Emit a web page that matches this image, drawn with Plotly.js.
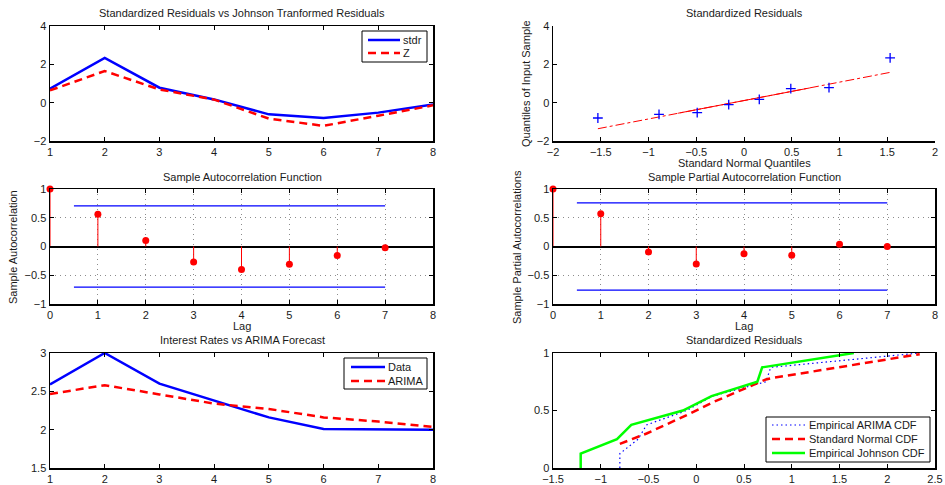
<!DOCTYPE html>
<html>
<head>
<meta charset="utf-8">
<script src="https://cdn.plot.ly/plotly-3.0.1.min.js"></script>
<style>
  html, body { margin: 0; padding: 0; background: #fff; }
  #chart { width: 945px; height: 485px; }
</style>
</head>
<body>
<div id="chart"></div>
<script>
// ---- data ----
const obsIdx = [1, 2, 3, 4, 5, 6, 7, 8];
const stdr = [0.73, 2.34, 0.78, 0.17, -0.61, -0.80, -0.52, -0.10];
const johnsonZ = [0.64, 1.65, 0.69, 0.16, -0.83, -1.21, -0.68, -0.14];

const qqTheoretical = [-1.53, -0.89, -0.49, -0.16, 0.16, 0.49, 0.89, 1.53];
const qqSample = [-0.80, -0.61, -0.52, -0.10, 0.17, 0.73, 0.78, 2.34];
const qqLineX = [-1.53, 1.53];
const qqLineY = [-1.36, 1.58];
const qqSolidX = [-0.69, 0.69];
const qqSolidY = [-0.55, 0.77];

const acfLags = [0, 1, 2, 3, 4, 5, 6, 7];
const acfVals = [1, 0.56, 0.105, -0.27, -0.40, -0.31, -0.155, -0.023];
const acfBound = 0.707;
const pacfVals = [1, 0.57, -0.095, -0.305, -0.125, -0.15, 0.04, 0.0];
const pacfBound = 0.757;
const boundLags = [0.5, 7];

const rateData = [2.59, 3.0, 2.60, 2.375, 2.16, 2.01, 2.005, 2.0];
const arimaFit = [2.465, 2.58, 2.46, 2.34, 2.27, 2.16, 2.105, 2.035];

const cdfArimaX = [-0.80, -0.80, -0.61, -0.52, -0.10, 0.17, 0.73, 0.78, 2.34];
const cdfArimaY = [0, 0.125, 0.25, 0.375, 0.5, 0.625, 0.75, 0.875, 1];
const cdfNormX = [-0.80, -0.61, -0.52, -0.10, 0.17, 0.73, 0.78, 2.34];
const cdfNormY = [0.21, 0.27, 0.30, 0.46, 0.57, 0.77, 0.78, 0.99];
const cdfJohnsonX = [-1.21, -1.21, -0.83, -0.68, -0.14, 0.16, 0.64, 0.69, 1.65];
const cdfJohnsonY = [0, 0.125, 0.25, 0.375, 0.5, 0.625, 0.75, 0.875, 1];

// ---- styles ----
const W = 945, H = 485;
const BLUE = '#0000ff', RED = '#ff0000', GREEN = '#00ff00';
const FONT = { family: 'Liberation Sans, Arial, Helvetica, sans-serif', size: 11, color: '#1a1a1a' };
const DASH = '8px,5px';
const DOT = '1.5px,3px';

const thick = (color, dash) => ({ color: color, width: 2.5, dash: dash || 'solid' });

// stem segments: each lag goes from 0 to its value
function stems(xs, ys) {
  const sx = [], sy = [];
  xs.forEach((x, i) => { sx.push(x, x, null); sy.push(0, ys[i], null); });
  return { x: sx, y: sy };
}
const acfStem = stems(acfLags, acfVals);
const pacfStem = stems(acfLags, pacfVals);

const traces = [
  // residuals
  { x: obsIdx, y: stdr, name: 'stdr', mode: 'lines', line: thick(BLUE), xaxis: 'x', yaxis: 'y' },
  { x: obsIdx, y: johnsonZ, name: 'Z', mode: 'lines', line: thick(RED, DASH), xaxis: 'x', yaxis: 'y' },

  // normal QQ
  { x: qqLineX, y: qqLineY, mode: 'lines', line: { color: RED, width: 1, dash: 'dashdot' }, xaxis: 'x2', yaxis: 'y2' },
  { x: qqSolidX, y: qqSolidY, mode: 'lines', line: { color: RED, width: 1 }, xaxis: 'x2', yaxis: 'y2' },
  { x: qqTheoretical, y: qqSample, mode: 'markers', marker: { symbol: 'cross-thin', size: 7, color: BLUE, line: { color: BLUE, width: 1.3 } }, xaxis: 'x2', yaxis: 'y2' },

  // ACF
  { x: boundLags, y: [acfBound, acfBound], mode: 'lines', line: { color: BLUE, width: 1.3 }, xaxis: 'x3', yaxis: 'y3' },
  { x: boundLags, y: [-acfBound, -acfBound], mode: 'lines', line: { color: BLUE, width: 1.3 }, xaxis: 'x3', yaxis: 'y3' },
  { x: acfStem.x, y: acfStem.y, mode: 'lines', line: { color: RED, width: 1 }, xaxis: 'x3', yaxis: 'y3' },
  { x: acfLags, y: acfVals, mode: 'markers', marker: { color: RED, size: 7 }, xaxis: 'x3', yaxis: 'y3', cliponaxis: false },

  // PACF
  { x: boundLags, y: [pacfBound, pacfBound], mode: 'lines', line: { color: BLUE, width: 1.3 }, xaxis: 'x4', yaxis: 'y4' },
  { x: boundLags, y: [-pacfBound, -pacfBound], mode: 'lines', line: { color: BLUE, width: 1.3 }, xaxis: 'x4', yaxis: 'y4' },
  { x: pacfStem.x, y: pacfStem.y, mode: 'lines', line: { color: RED, width: 1 }, xaxis: 'x4', yaxis: 'y4' },
  { x: acfLags, y: pacfVals, mode: 'markers', marker: { color: RED, size: 7 }, xaxis: 'x4', yaxis: 'y4', cliponaxis: false },

  // rates vs forecast
  { x: obsIdx, y: rateData, name: 'Data', mode: 'lines', line: thick(BLUE), xaxis: 'x5', yaxis: 'y5' },
  { x: obsIdx, y: arimaFit, name: 'ARIMA', mode: 'lines', line: thick(RED, DASH), xaxis: 'x5', yaxis: 'y5' },

  // CDFs
  { x: cdfArimaX, y: cdfArimaY, name: 'Empirical ARIMA CDF', mode: 'lines', line: { color: BLUE, width: 1.2, dash: DOT }, xaxis: 'x6', yaxis: 'y6' },
  { x: cdfNormX, y: cdfNormY, name: 'Standard Normal CDF', mode: 'lines', line: thick(RED, DASH), xaxis: 'x6', yaxis: 'y6' },
  { x: cdfJohnsonX, y: cdfJohnsonY, name: 'Empirical Johnson CDF', mode: 'lines', line: thick(GREEN), xaxis: 'x6', yaxis: 'y6' }
];

// axes boxes in pixels
const colL = [50, 433], colR = [553, 935];
const row1 = [26, 141], row2 = [189, 304], row3 = [353, 468];
const dx = c => [c[0] / W, c[1] / W];
const dy = r => [1 - r[1] / H, 1 - r[0] / H];
const px = v => v / W, py = v => 1 - v / H;

function axis(dom, range, dtick, opts) {
  return Object.assign({
    domain: dom, range: range, dtick: dtick, tick0: range[0],
    showline: true, linecolor: '#000', linewidth: 1.5, mirror: 'ticks',
    ticks: 'inside', ticklen: 4, tickwidth: 1, tickcolor: '#000',
    showgrid: false, zeroline: false, fixedrange: true,
    tickfont: FONT
  }, opts || {});
}
const gridOpts = { showgrid: true, gridcolor: '#8c8c8c', griddash: '1px,4px', gridwidth: 1 };
const zeroOpts = { zeroline: true, zerolinecolor: '#000', zerolinewidth: 2 };

function ann(text, x, y, angle, anchor) {
  return { text: text, x: px(x), y: py(y), xref: 'paper', yref: 'paper',
    xanchor: anchor || 'center', yanchor: 'middle', showarrow: false, textangle: angle || 0, font: FONT };
}

// boxed legends: frame, line samples and labels
const shapes = [];
const legendAnns = [];
function legendBox(box, sample, textX, rows) {
  shapes.push({ type: 'rect', xref: 'paper', yref: 'paper', x0: px(box[0]), x1: px(box[1]), y0: py(box[3]), y1: py(box[2]),
    fillcolor: '#fff', line: { color: '#000', width: 1 }, layer: 'above' });
  rows.forEach(r => {
    shapes.push({ type: 'line', xref: 'paper', yref: 'paper', x0: px(sample[0]), x1: px(sample[1]), y0: py(r.y), y1: py(r.y),
      line: r.line, layer: 'above' });
    legendAnns.push(ann(r.text, textX, r.y, 0, 'left'));
  });
}
legendBox([362, 427, 31, 62], [368, 400], 401, [
  { text: traces[0].name, y: 40, line: thick(BLUE) },
  { text: traces[1].name, y: 53, line: thick(RED, DASH) }
]);
legendBox([344, 427, 358, 389], [351, 385], 386, [
  { text: traces[13].name, y: 367, line: thick(BLUE) },
  { text: traces[14].name, y: 381, line: thick(RED, DASH) }
]);
legendBox([766, 930, 417, 462], [772, 805], 807, [
  { text: traces[15].name, y: 425, line: { color: BLUE, width: 1.2, dash: DOT } },
  { text: traces[16].name, y: 439, line: thick(RED, DASH) },
  { text: traces[17].name, y: 453, line: thick(GREEN) }
]);

const layout = {
  width: W, height: H,
  margin: { l: 0, r: 0, t: 0, b: 0 },
  paper_bgcolor: '#fff', plot_bgcolor: '#fff',
  font: FONT,
  showlegend: false,
  xaxis:  axis(dx(colL), [1, 8], 1, { anchor: 'y' }),
  yaxis:  axis(dy(row1), [-2, 4], 2, { anchor: 'x' }),
  xaxis2: axis(dx(colR), [-2, 2], 0.5, { anchor: 'y2', mirror: false }),
  yaxis2: axis(dy(row1), [-2, 4], 2, { anchor: 'x2', mirror: false }),
  xaxis3: axis(dx(colL), [0, 8], 1, Object.assign({ anchor: 'y3' }, gridOpts)),
  yaxis3: axis(dy(row2), [-1, 1], 0.5, Object.assign({ anchor: 'x3' }, gridOpts, zeroOpts)),
  xaxis4: axis(dx(colR), [0, 8], 1, Object.assign({ anchor: 'y4' }, gridOpts)),
  yaxis4: axis(dy(row2), [-1, 1], 0.5, Object.assign({ anchor: 'x4' }, gridOpts, zeroOpts)),
  xaxis5: axis(dx(colL), [1, 8], 1, { anchor: 'y5' }),
  yaxis5: axis(dy(row3), [1.5, 3], 0.5, { anchor: 'x5' }),
  xaxis6: axis(dx(colR), [-1.5, 2.5], 0.5, { anchor: 'y6' }),
  yaxis6: axis(dy(row3), [0, 1], 0.5, { anchor: 'x6' }),
  shapes: shapes,
  annotations: [
    ann('Standardized Residuals vs Johnson Tranformed Residuals', 242, 13),
    ann('Standardized Residuals', 744, 13),
    ann('Standard Normal Quantiles', 744, 163),
    ann('Quantiles of Input Sample', 526, 84, -90),
    ann('Sample Autocorrelation Function', 242, 177),
    ann('Sample Autocorrelation', 13, 247, -90),
    ann('Lag', 242, 326),
    ann('Sample Partial Autocorrelation Function', 744, 177),
    ann('Sample Partial Autocorrelations', 517, 247, -90),
    ann('Lag', 744, 326),
    ann('Interest Rates vs ARIMA Forecast', 242, 340),
    ann('Standardized Residuals', 744, 340)
  ].concat(legendAnns)
};

Plotly.newPlot('chart', traces, layout, { staticPlot: true, displayModeBar: false });
</script>
</body>
</html>
